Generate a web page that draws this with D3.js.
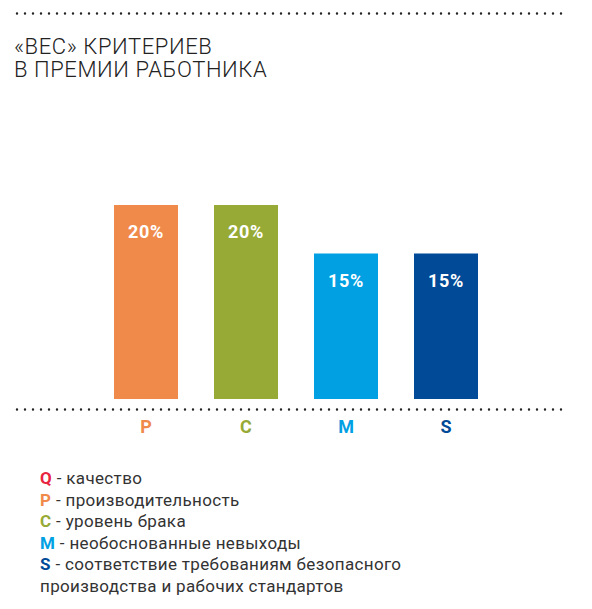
<!DOCTYPE html>
<html>
<head>
<meta charset="utf-8">
<script src="https://cdn.jsdelivr.net/npm/d3@7"></script>
<style>
  body { margin: 0; background: #fff; }
  svg { display: block; font-family: Roboto, "Noto Sans", sans-serif; }
</style>
</head>
<body>
<svg id="chart"></svg>
<script>
// data
const titleLines = ["«ВЕС» КРИТЕРИЕВ", "В ПРЕМИИ РАБОТНИКА"];
const categories = ["P", "C", "M", "S"];
const values = [20, 20, 15, 15];
const barColors = ["#f08a4b", "#97aa36", "#00a0e3", "#004a97"];
const legendKeys = ["Q", "P", "C", "M", "S"];
const legendColors = ["#e8253f", "#f08a4b", "#97aa36", "#00a0e3", "#004a97"];
const legendTexts = [
  "качество",
  "производительность",
  "уровень брака",
  "необоснованные невыходы",
  "соответствие требованиям безопасного"
];
const legendExtra = "производства и рабочих стандартов";

const width = 592, height = 609;

const svg = d3.select("#chart")
  .attr("width", width)
  .attr("height", height);

// dotted rules
function dottedRule(y) {
  svg.append("line")
    .attr("x1", 17).attr("x2", 565)
    .attr("y1", y).attr("y2", y)
    .attr("stroke", "#222")
    .attr("stroke-width", 2.4)
    .attr("stroke-linecap", "round")
    .attr("stroke-dasharray", "0,8");
}
dottedRule(13.5);

// title, one text per line
svg.append("g")
  .selectAll("text")
  .data(titleLines)
  .join("text")
  .attr("x", 14)
  .attr("y", (d, i) => 54 + i * 23)
  .attr("fill", "#222")
  .style("font-size", "22px")
  .style("font-weight", 300)
  .style("letter-spacing", "0.6px")
  .text(d => d);

// scales
const x = d3.scaleBand()
  .domain(categories)
  .range([96, 496])
  .paddingInner(0.36)
  .paddingOuter(0.18);

const y = d3.scaleLinear()
  .domain([0, 20])
  .range([399, 205]);

const color = d3.scaleOrdinal().domain(categories).range(barColors);

const data = categories.map((c, i) => ({ cat: c, value: values[i] }));

svg.append("g")
  .selectAll("rect")
  .data(data)
  .join("rect")
  .attr("x", d => x(d.cat))
  .attr("y", d => y(d.value))
  .attr("width", x.bandwidth())
  .attr("height", d => y(0) - y(d.value))
  .attr("fill", d => color(d.cat));

svg.append("g")
  .selectAll("text")
  .data(data)
  .join("text")
  .attr("x", d => x(d.cat) + x.bandwidth() / 2)
  .attr("y", d => y(d.value) + 33)
  .attr("text-anchor", "middle")
  .attr("fill", "#fff")
  .style("font-size", "18px")
  .style("font-weight", 700)
  .style("letter-spacing", "0.6px")
  .text(d => d.value + "%");

dottedRule(409.5);

// category axis
const xAxis = svg.append("g")
  .attr("transform", "translate(0,420)")
  .call(d3.axisBottom(x).tickSize(0).tickPadding(0));
xAxis.select(".domain").remove();
xAxis.selectAll("text")
  .attr("dy", "0.71em")
  .attr("fill", d => color(d))
  .style("font-size", "18px")
  .style("font-weight", 700)
  .style("font-family", "Roboto, sans-serif");

// legend
const legend = svg.append("g")
  .attr("transform", "translate(40,484)");

const rows = legend.selectAll("text")
  .data(legendKeys)
  .join("text")
  .attr("y", (d, i) => i * 21.6)
  .style("font-size", "17px")
  .style("letter-spacing", "0.35px")
  .attr("fill", "#333");

rows.append("tspan")
  .attr("fill", (d, i) => legendColors[i])
  .style("font-weight", 700)
  .text(d => d);

rows.append("tspan")
  .text((d, i) => " - " + legendTexts[i]);

legend.append("text")
  .attr("y", 5 * 21.6)
  .style("font-size", "17px")
  .style("letter-spacing", "0.35px")
  .attr("fill", "#333")
  .text(legendExtra);
</script>
</body>
</html>
